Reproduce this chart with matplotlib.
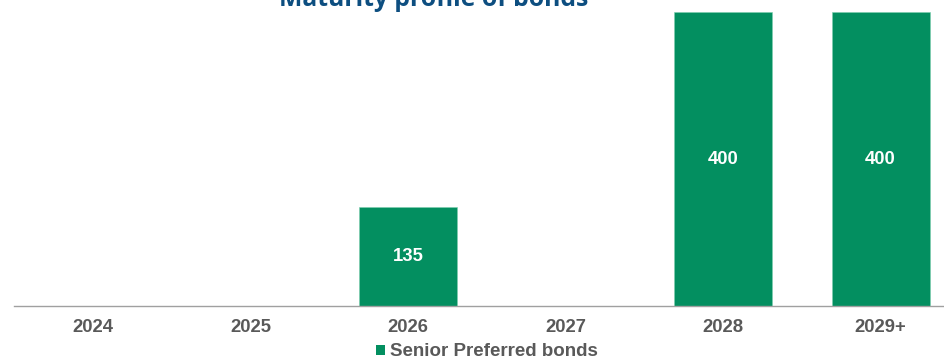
import matplotlib
matplotlib.use("Agg")
import matplotlib.pyplot as plt
from matplotlib.patches import Patch

years = ["2024", "2025", "2026", "2027", "2028", "2029+"]
senior_preferred = [0, 0, 135, 0, 400, 400]

GREEN = "#038F60"
GREY = "#595959"
TITLE_BLUE = "#0D4E80"

fig = plt.figure(figsize=(9.44, 3.61), dpi=100)
ax = fig.add_axes([14 / 944, 55 / 361, 930 / 944, 294 / 361])

x = list(range(len(years)))
bars = ax.bar(x, senior_preferred, width=0.622, color=GREEN,
              edgecolor="#7FCFB0", linewidth=0.4)

for xi, v in zip(x, senior_preferred):
    if v > 0:
        ax.text(xi, v / 2, f"{v}", ha="center", va="center",
                color="white", fontsize=13.3, fontweight="bold",
                family="Liberation Sans")

ax.set_xlim(-0.502, 5.403)
ax.set_ylim(0, 400)
ax.set_xticks(x)
ax.set_xticklabels(years, fontsize=13.3, fontweight="bold", color=GREY,
                   family="Liberation Sans")
ax.tick_params(axis="x", length=0, pad=9)
ax.set_yticks([])
for side in ["top", "left", "right"]:
    ax.spines[side].set_visible(False)
ax.spines["bottom"].set_color("#A0A0A0")
ax.spines["bottom"].set_linewidth(1.0)

fig.text(434 / 944, 355 / 361, "Maturity profile of bonds", ha="center",
         va="baseline", fontsize=17.8, fontweight="bold", color=TITLE_BLUE,
         family="Open Sans")

handle = Patch(facecolor=GREEN, edgecolor="none", label="Senior Preferred bonds")
fig.legend(handles=[handle], loc="center", bbox_to_anchor=(487 / 944, 9 / 361),
           frameon=False, handlelength=0.5, handleheight=0.5,
           handletextpad=0.27, borderpad=0,
           prop={"family": "Liberation Sans", "weight": "bold", "size": 13.5},
           labelcolor=GREY)

fig.savefig("out.png", dpi=100)
